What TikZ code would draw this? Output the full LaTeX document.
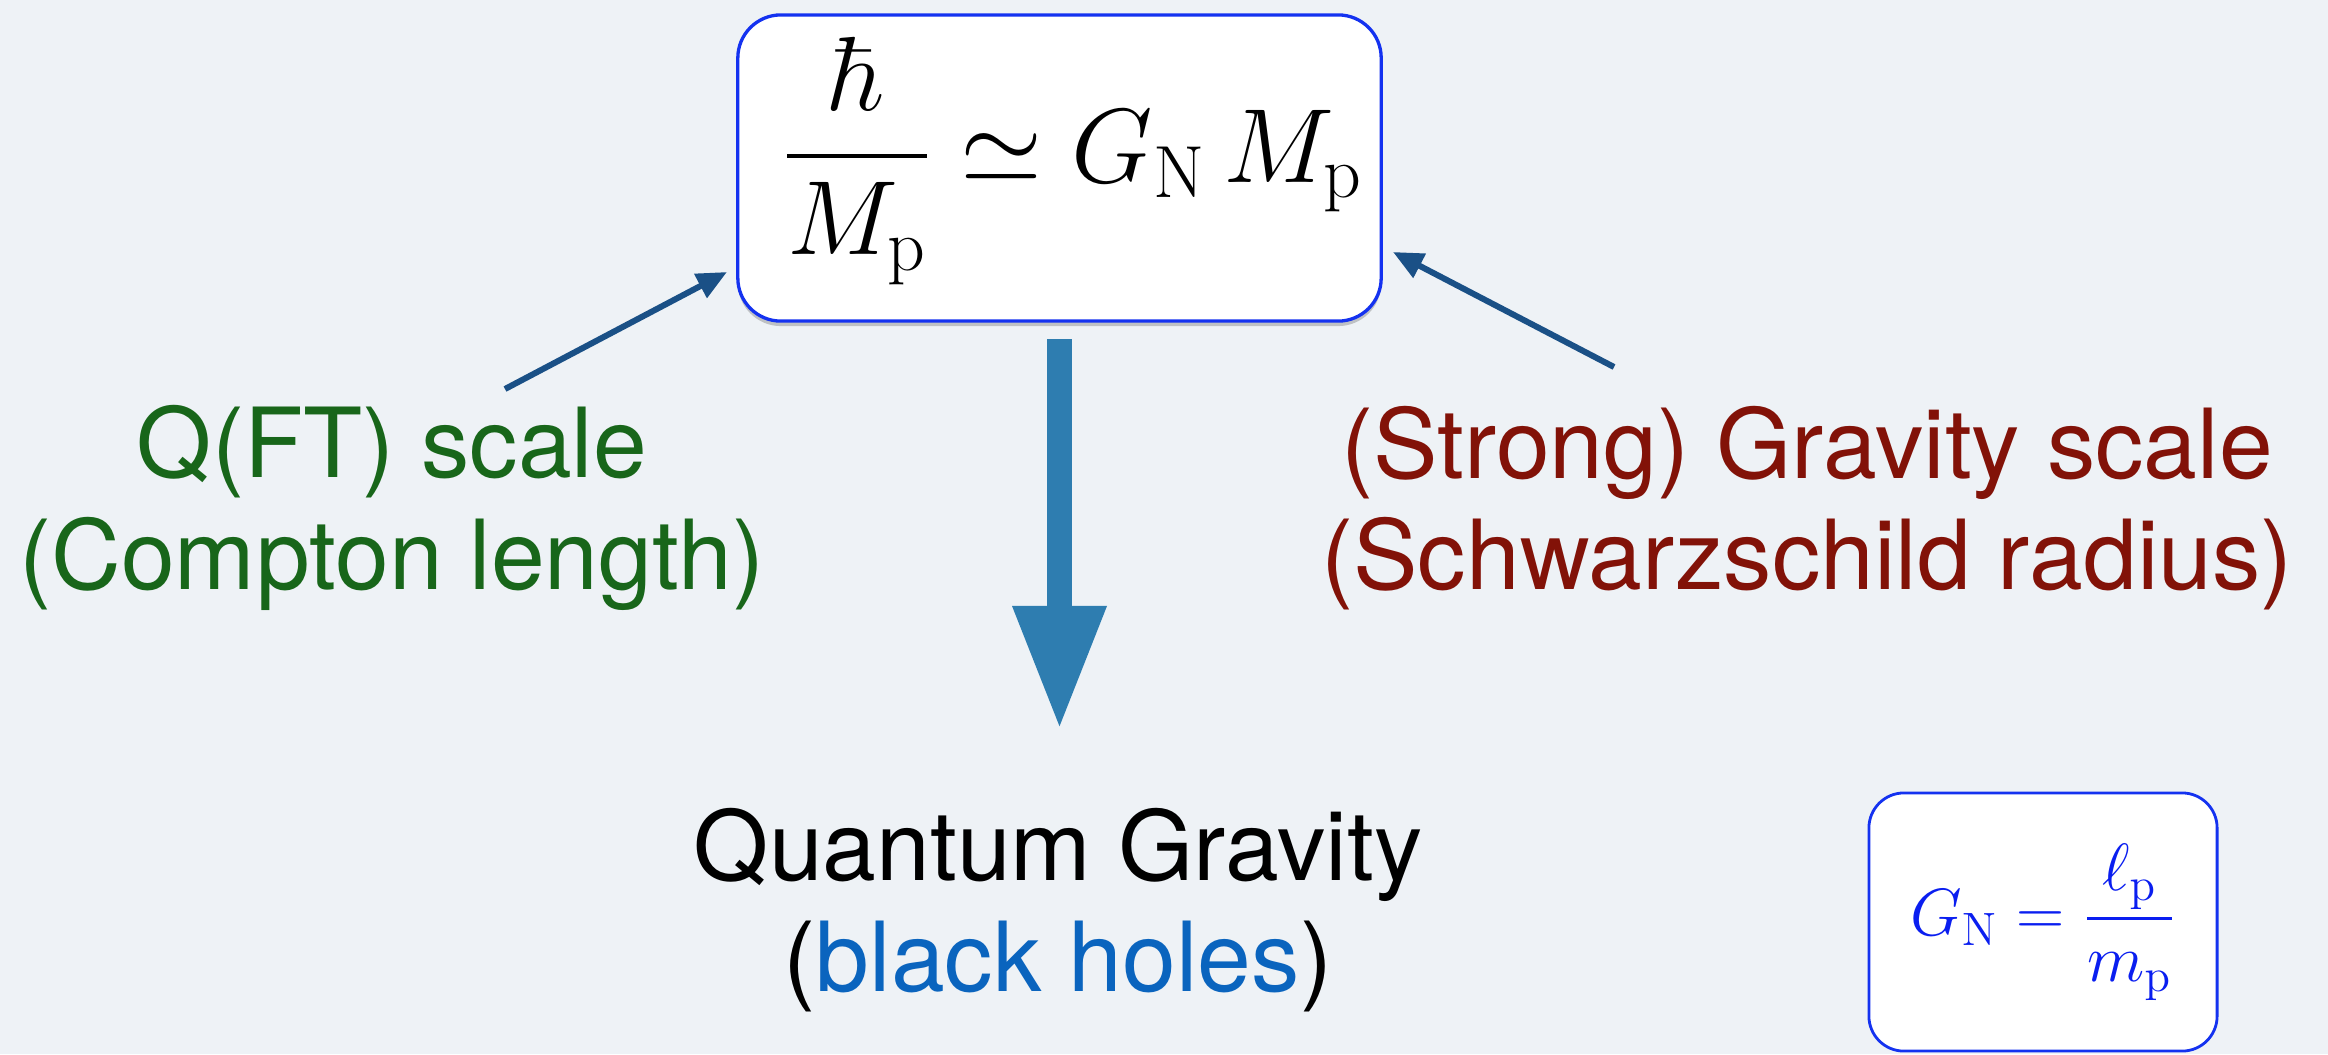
\RequirePackage{fix-cm}
\documentclass[tikz,border=0pt]{standalone}
\usepackage{amsmath}
\usepackage[no-math]{fontspec}
\newfontfamily\helv{TeX Gyre Heros}
\usetikzlibrary{arrows.meta,shadows}
\definecolor{bgcol}{RGB}{238,242,246}
\definecolor{boxblue}{RGB}{20,50,240}
\definecolor{fblue}{RGB}{10,30,240}
\definecolor{qftgreen}{RGB}{24,102,26}
\definecolor{gravred}{RGB}{130,18,8}
\definecolor{bhblue}{RGB}{10,100,190}
\definecolor{arrowblue}{RGB}{26,80,134}
\definecolor{bigblue}{RGB}{46,125,176}
\begin{document}
\begin{tikzpicture}[x=0.01cm,y=-0.01cm,
  lbl/.style={font=\helv\fontsize{27.5pt}{31.7pt}\selectfont, align=center, inner sep=0pt},
  eqbox/.style={draw=boxblue, line width=0.033cm, fill=white, rounded corners=0.43cm},
  smallbox/.style={draw=boxblue, line width=0.028cm, fill=white, rounded corners=0.35cm},
  thinarrow/.style={draw=arrowblue, line width=0.06cm, -{Triangle[length=0.3cm,width=0.26cm]}},
  bigarrow/.style={draw=bigblue, line width=0.25cm, -{Triangle[length=1.24cm,width=0.87cm]}}
]
\fill[bgcol] (0,0) rectangle (2328,1054);
\useasboundingbox (0,0) rectangle (2328,1054);

% top formula box
\node[eqbox, minimum width=6.43cm, minimum height=3.06cm,
  drop shadow={shadow xshift=0pt, shadow yshift=-0.05cm, opacity=0.2, fill=black}] (top) at (1059.5,168) {};
\node[anchor=base, font=\fontsize{30pt}{36pt}\selectfont] (topeq) at (1073,182)
  {$\genfrac{}{}{1.1pt}{0}{\hbar}{M_{\mathrm{p}}} \simeq G_{\mathrm{N}}\, M_{\mathrm{p}}$};

% labels
\node[lbl, text=qftgreen] (qft) at (392,508) {Q(FT) scale\\(Compton length)};
\node[lbl, text=gravred] (grav) at (1807,508) {(Strong) Gravity scale\\(Schwarzschild radius)};
\node[lbl] (qg) at (1058,910) {Quantum Gravity\\(\textcolor{bhblue}{black holes})};

% small box
\node[smallbox, minimum width=3.48cm, minimum height=2.58cm, text=fblue,
  font=\fontsize{19pt}{23pt}\selectfont] (gbox) at (2043,922)
  {$G_{\mathrm{N}} = \genfrac{}{}{0.7pt}{0}{\ell_{\mathrm{p}}}{m_{\mathrm{p}}}$};

% arrows
\coordinate (qfttail) at (505,389);
\coordinate (topl) at (727,272);
\coordinate (gravtail) at (1614,367);
\coordinate (topr) at (1393,252);
\coordinate (bigtop) at (1059.5,339);
\coordinate (bigtip) at (1059.5,730);
\draw[thinarrow] (qfttail) -- (topl);
\draw[thinarrow] (gravtail) -- (topr);
\draw[bigarrow] (bigtop) -- (bigtip);
\end{tikzpicture}
\end{document}
